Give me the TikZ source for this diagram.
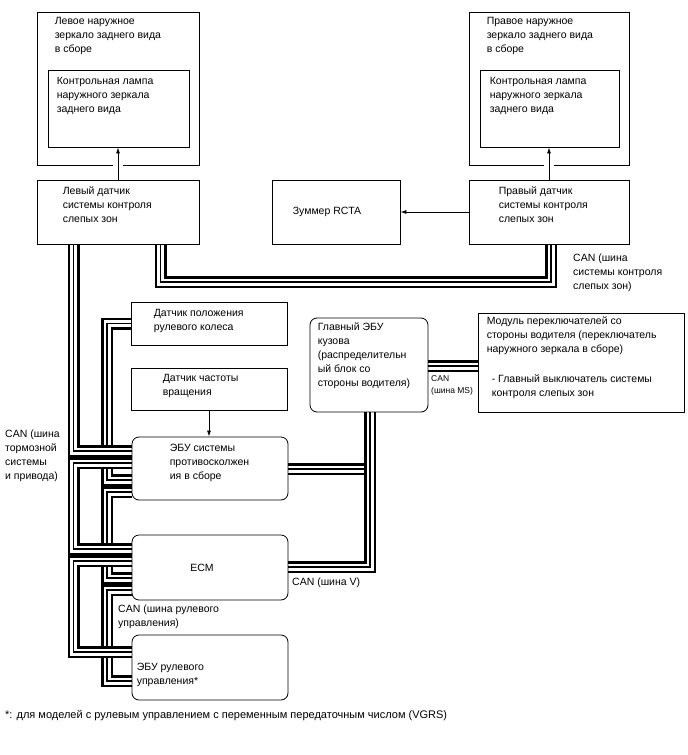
\documentclass[tikz,border=0pt]{standalone}
\usepackage{fontspec}
\setmainfont{Liberation Sans}
\usetikzlibrary{arrows.meta, calc, backgrounds}

\begin{document}
\begin{tikzpicture}[
    x=1pt, y=-1pt, >={Latex[length=6pt,width=4pt]},
    font=\fontsize{10.5}{14}\selectfont,
    box/.style={draw, line width=0.8pt, inner sep=0pt},
    ecu/.style={box, rounded corners=7pt},
    txt/.style={align=left, inner sep=0pt},
    bus/.style={line width=1.1pt, preaction={draw, line width=12pt},
        preaction={draw=white, line width=7pt}}]
    \useasboundingbox (0,0) rectangle (688,755);

    % Boxes
    \node[box, minimum width=162, minimum height=153] (mirL) at (118,88.5) {};
    \node[box, minimum width=141, minimum height=77] (lampL) at (118.5,108.5) {};
    \node[box, minimum width=162, minimum height=64] (sensL) at (118,212) {};
    \node[box, minimum width=128, minimum height=64] (buzz) at (336,212) {};
    \node[box, minimum width=160, minimum height=153] (mirR) at (549,88.5) {};
    \node[box, minimum width=139, minimum height=77] (lampR) at (549.5,108.5) {};
    \node[box, minimum width=160, minimum height=64] (sensR) at (549,212) {};
    \node[box, minimum width=156, minimum height=43] (steer) at (209,323.5) {};
    \node[box, minimum width=156, minimum height=42] (speed) at (209,389) {};
    \node[ecu, minimum width=156, minimum height=63] (abs) at (210,468.5) {};
    \node[ecu, minimum width=156, minimum height=65] (ecm) at (210,567.5) {};
    \node[ecu, minimum width=156, minimum height=65] (eps) at (210,667.5) {};
    \node[ecu, minimum width=118, minimum height=94] (body) at (369,365) {};
    \node[box, minimum width=206, minimum height=99] (module) at (581,362.5) {};

    % Box texts
    \node[txt, anchor=north west] (mirLt) at ([xshift=18pt, yshift=-5pt]mirL.north west)
        {Левое наружное\\зеркало заднего вида\\в сборе};
    \node[txt, anchor=north west] (lampLt) at ([xshift=9pt, yshift=-7pt]lampL.north west)
        {Контрольная лампа\\наружного зеркала\\заднего вида};
    \node[txt, anchor=west] (sensLt) at ([xshift=26pt, yshift=7pt]sensL.west)
        {Левый датчик\\системы контроля\\слепых зон};
    \node[txt, anchor=west] (buzzt) at ([xshift=21pt]buzz.west) {Зуммер RCTA};
    \node[txt, anchor=north west] (mirRt) at ([xshift=18pt, yshift=-5pt]mirR.north west)
        {Правое наружное\\зеркало заднего вида\\в сборе};
    \node[txt, anchor=north west] (lampRt) at ([xshift=10pt, yshift=-7pt]lampR.north west)
        {Контрольная лампа\\наружного зеркала\\заднего вида};
    \node[txt, anchor=west] (sensRt) at ([xshift=30pt, yshift=7pt]sensR.west)
        {Правый датчик\\системы контроля\\слепых зон};
    \node[txt, anchor=west] (steert) at ([xshift=23pt, yshift=3pt]steer.west)
        {Датчик положения\\рулевого колеса};
    \node[txt, anchor=west] (speedt) at ([xshift=32pt, yshift=3pt]speed.west)
        {Датчик частоты\\вращения};
    \node[txt, anchor=west] (abst) at ([xshift=38pt, yshift=6pt]abs.west)
        {ЭБУ системы\\противосколжен\\ия в сборе};
    \node[txt] (ecmt) at ([xshift=-8pt]ecm.center) {ECM};
    \node[txt, anchor=west] (epst) at ([xshift=5pt, yshift=-7.5pt]eps.west)
        {ЭБУ рулевого\\управления*};
    \node[txt, anchor=west] (bodyt) at ([xshift=8pt, yshift=9pt]body.west)
        {Главный ЭБУ\\кузова\\(распределительн\\ый блок со\\стороны водителя)};
    \node[txt, anchor=west] (modulet) at ([xshift=9pt, yshift=4.5pt]module.west)
        {Модуль переключателей со\\стороны водителя (переключатель\\наружного зеркала в сборе)\\[16pt]
         \hspace*{5pt}- Главный выключатель системы\\\hspace*{5pt}контроля слепых зон};

    % Bus labels
    \node[txt, anchor=north west] (canBsm) at (573,254) {CAN (шина\\системы контроля\\слепых зон)};
    \node[txt, anchor=north west] (canBrk) at (5,430) {CAN (шина\\тормозной\\системы\\и привода)};
    \node[txt, anchor=north west] (canSt) at (118,605) {CAN (шина рулевого\\управления)};
    \node[txt, anchor=west] (canV) at (292,583) {CAN (шина V)};
    \node[txt, anchor=north west, font=\fontsize{8.5}{12.5}\selectfont] (canMs) at (431,375)
        {CAN\\(шина MS)};
    \node[txt, anchor=west, font=\fontsize{11}{13}\selectfont] (note) at (5,716)
        {*: для моделей с рулевым управлением с переменным передаточным числом (VGRS)};

    % Signal arrows
    \fill[white] ($(mirL.south)+(-5,-1.5)$) rectangle ($(mirL.south)+(5,1.5)$);
    \fill[white] ($(mirR.south)+(-5,-1.5)$) rectangle ($(mirR.south)+(5,1.5)$);
    \draw[->, line width=0.8pt] (sensL.north) -- (sensL.north |- lampL.south);
    \draw[->, line width=0.8pt] (sensR.north) -- (sensR.north |- lampR.south);
    \draw[->, line width=0.8pt] (sensR.west) -- (buzz.east);
    \draw[->, line width=0.8pt] (speed.south) -- (speed.south |- abs.north);

    % CAN buses
    \begin{scope}[on background layer]
        \coordinate (trA) at (73.5,0);
        \coordinate (trB) at (107,0);
        \coordinate (trC) at (370,0);
        \coordinate (trEl) at (160.5,282);
        \coordinate (trEr) at (551,282);
        \coordinate (absA1) at ([yshift=17.5pt]abs.west);
        \coordinate (absA2) at ([yshift=5.5pt]abs.west);
        \coordinate (absB1) at ([yshift=-11.5pt]abs.west);
        \coordinate (absB2) at ([yshift=-23.5pt]abs.west);
        \coordinate (ecmA2) at ([yshift=18.5pt]ecm.west);
        \coordinate (ecmA3) at ([yshift=6.5pt]ecm.west);
        \coordinate (ecmB2) at ([yshift=-10.5pt]ecm.west);
        \coordinate (ecmB3) at ([yshift=-22.5pt]ecm.west);
        \coordinate (epsA3) at ([yshift=15.5pt]eps.west);
        \coordinate (epsB3) at ([yshift=-13.5pt]eps.west);
        \coordinate (absC) at ([yshift=-0.5pt]abs.east);
        \coordinate (ecmC) at ([yshift=0.5pt]ecm.east);
        \coordinate (modD) at ([yshift=-3.5pt]module.west);

        \draw[bus] (sensL.south -| trEl) |- (trEr) -- (sensR.south -| trEr);
        \draw[bus] (steer.west) -- (steer.west -| trB) |- (absB1);
        \draw[bus] (absB2) -- (absB2 -| trB) |- (ecmB2);
        \draw[bus] (ecmB3) -- (ecmB3 -| trB) |- (epsB3);
        \draw[bus] (sensL.south -| trA) |- (absA1);
        \draw[bus] (absA2) -- (absA2 -| trA) |- (ecmA2);
        \draw[bus] (ecmA3) -- (ecmA3 -| trA) |- (epsA3);
        \draw[bus] (body.south -| trC) |- (absC);
        \draw[bus] (body.south -| trC) |- (ecmC);
        \draw[bus] (body.east |- modD) -- (modD);
    \end{scope}

\end{tikzpicture}
\end{document}
